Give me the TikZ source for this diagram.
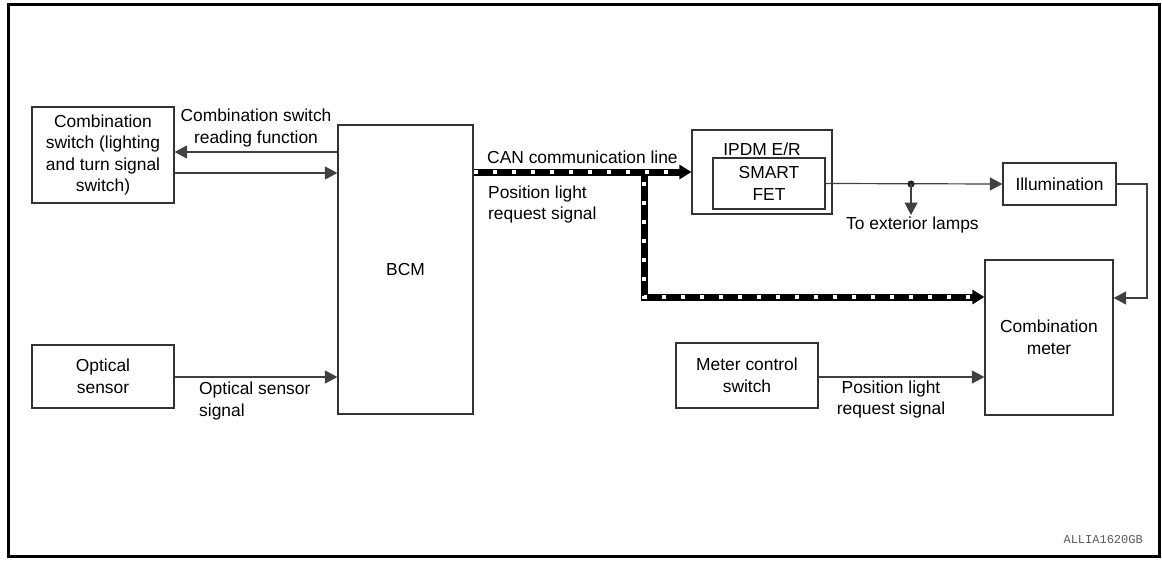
\documentclass[tikz,border=0pt]{standalone}
\usepackage{fontspec}
\setmainfont{Liberation Sans}
\newfontfamily\monofont{Liberation Mono}
\usetikzlibrary{arrows.meta}
\begin{document}
\begin{tikzpicture}[x=1pt,y=-1pt,
  every node/.style={font=\fontsize{17.4}{21.5}\selectfont, inner sep=0pt},
  box/.style={draw=black!80, line width=1.2pt, align=center, fill=white},
  wire/.style={draw=black!75, line width=1.2pt},
  arr/.style={wire, -{Triangle[length=12.5pt,width=13pt]}},
  canline/.style={draw=black, line width=7pt},
  canarr/.style={canline, -{Triangle[length=12pt,width=14pt]}},
  candash/.style={draw=white, line width=3.4pt, dash pattern=on 4pt off 15pt},
  lbl/.style={align=left, anchor=west},
  lblc/.style={align=center}]
\useasboundingbox (0,0) rectangle (1162,560);
\draw[line width=3pt] (8,4) rectangle (1159,556);

% boxes
\node[box, minimum width=142pt, minimum height=96pt] (cs) at (103,155) {Combination\\switch (lighting\\and turn signal\\switch)};
\node[box, minimum width=135pt, minimum height=289pt] (bcm) at (405.5,269.5) {BCM};
\node[box, minimum width=142pt, minimum height=63pt] (opt) at (103,376.5) {Optical\\sensor};
\node[box, minimum width=140pt, minimum height=84pt] (ipdm) at (762,172) {};
\node (ipdmlbl) at (762,149) {IPDM E/R};
\node[box, minimum width=112pt, minimum height=51pt] (fet) at (769,183.5) {SMART\\FET};
\node[box, minimum width=113pt, minimum height=42pt] (ill) at (1059.5,184) {Illumination};
\node[box, minimum width=128pt, minimum height=155pt] (meter) at (1049,337.5) {Combination\\meter};
\node[box, minimum width=142pt, minimum height=65pt] (mcs) at (747,375.5) {Meter control\\switch};

% coordinates
\coordinate (r1) at (0,152);
\coordinate (r2) at (0,173);
\coordinate (r3) at (0,377);
\coordinate (can) at (0,172);
\coordinate (br) at (644,172);
\coordinate (low) at (0,297);
\coordinate (dot) at (911,184);
\coordinate (ext) at (911,215);
\coordinate (rc) at (1147,184);
\coordinate (rb) at (1147,298);

% left connectors
\draw[arr] (bcm.west |- r1) -- (cs.east |- r1);
\draw[arr] (cs.east |- r2) -- (bcm.west |- r2);
\draw[arr] (opt.east |- r3) -- (bcm.west |- r3);

% CAN line
\draw[canarr] (bcm.east |- can) -- (ipdm.west |- can);
\draw[canline] (br) -- (br |- low);
\draw[canarr] ([xshift=-3.5pt]br |- low) -- (meter.west |- low);
\draw[candash] (bcm.east |- can) -- ([xshift=-12pt]ipdm.west |- can);
\draw[candash, dash phase=9pt] (br) -- (br |- low) -- ([xshift=-12pt]meter.west |- low);

% SMART FET output
\draw[arr] (fet.east) -- (ill.west);
\fill[black!85] (dot) circle (3.6pt);
\draw[arr] (dot) -- (ext);
\draw[arr] (ill.east) -- (rc) -- (rb) -- (meter.east |- rb);
\draw[arr] (mcs.east |- r3) -- (meter.west |- r3);

% labels
\node[lblc] (l1) at (256,128) {Combination switch\\reading function};
\node[lbl] (l2) at (199,401) {Optical sensor\\signal};
\node[lbl] (l3) at (487,157) {CAN communication line};
\node[lbl] (l4) at (488,204.5) {Position light\\request signal};
\node[lblc] (l5) at (891,399.5) {Position light\\request signal};
\node[lbl] (l6) at (846,225) {To exterior lamps};
\node[anchor=east, font=\monofont\fontsize{12}{14}\selectfont, text=black!65] (code) at (1143,540) {ALLIA1620GB};
\end{tikzpicture}
\end{document}
